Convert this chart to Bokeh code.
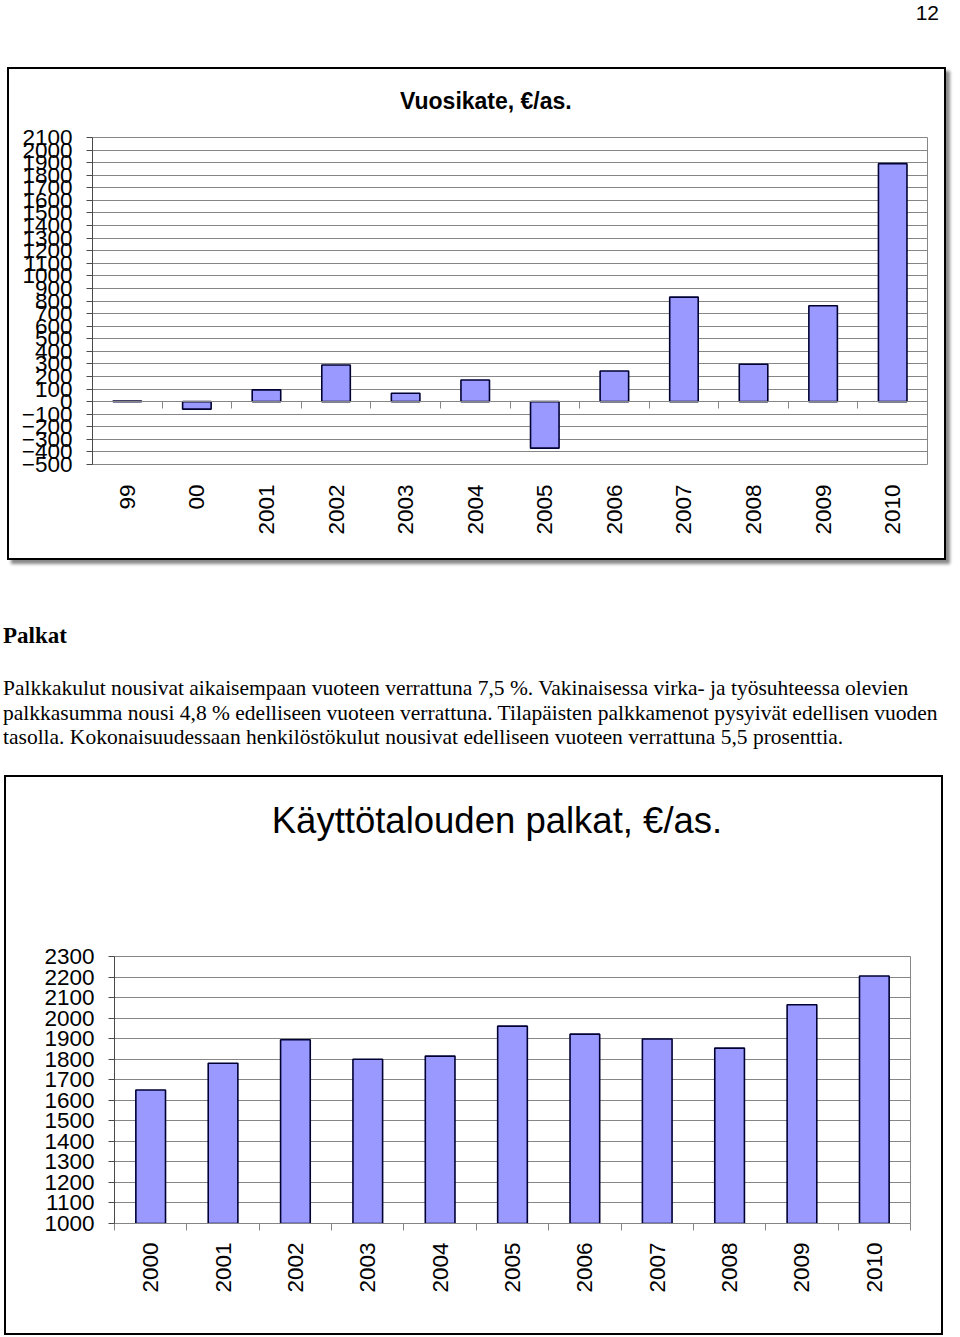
import math
from bokeh.plotting import figure
from bokeh.models import Range1d, LinearAxis, FixedTicker, Grid, Div, ColumnDataSource, Column
from bokeh.embed import file_html
from bokeh.resources import INLINE

# ---------------- data ----------------
top_title = "Vuosikate, €/as."
top_categories = ["99", "00", "2001", "2002", "2003", "2004", "2005", "2006", "2007", "2008", "2009", "2010"]
top_values = [5, -60, 93, 291, 67, 172, -370, 244, 831, 297, 762, 1892]
top_y_ticks = list(range(-500, 2101, 100))

bottom_title = "Käyttötalouden palkat, €/as."
bottom_categories = ["2000", "2001", "2002", "2003", "2004", "2005", "2006", "2007", "2008", "2009", "2010"]
bottom_values = [1650, 1780, 1895, 1800, 1815, 1961, 1922, 1898, 1854, 2065, 2205]
bottom_y_ticks = list(range(1000, 2301, 100))

page_number = "12"
heading = "Palkat"
paragraph_lines = [
    "Palkkakulut nousivat aikaisempaan vuoteen verrattuna 7,5 %. Vakinaisessa virka- ja työsuhteessa olevien",
    "palkkasumma nousi 4,8 % edelliseen vuoteen verrattuna. Tilapäisten palkkamenot pysyivät edellisen vuoden",
    "tasolla. Kokonaisuudessaan henkilöstökulut nousivat edelliseen vuoteen verrattuna 5,5 prosenttia.",
]

# ---------------- styles ----------------
FONT = "Liberation Sans"
BAR = "#9999FF"
EDGE = "#000033"
GRID = "#868686"
AXIS = "#4a4a4a"


def bar_chart(categories, values, y_ticks, width, height, borders, base):
    n = len(categories)
    centers = [i + 0.5 for i in range(n)]
    bounds = list(range(n + 1))
    p = figure(width=width, height=height,
               x_range=Range1d(0, n), y_range=Range1d(y_ticks[0], y_ticks[-1]),
               x_axis_type=None, y_axis_type=None,
               toolbar_location=None, output_backend="svg",
               min_border_left=borders[0], min_border_right=borders[1],
               min_border_top=borders[2], min_border_bottom=borders[3],
               background_fill_color="white", border_fill_color="white",
               margin=0)
    p.frame_align = False
    p.outline_line_color = GRID
    p.outline_line_width = 1

    p.add_layout(Grid(dimension=1, ticker=FixedTicker(ticks=y_ticks),
                      grid_line_color=GRID, grid_line_width=1))

    yax = LinearAxis(ticker=FixedTicker(ticks=y_ticks, minor_ticks=[]),
                     major_tick_out=6, major_tick_in=0, minor_tick_out=0, minor_tick_in=0,
                     axis_line_color=AXIS, major_tick_line_color=AXIS,
                     major_label_text_font=FONT, major_label_text_font_size="22.5px",
                     major_label_text_color="black", major_label_standoff=14)
    p.add_layout(yax, "left")

    src = ColumnDataSource(dict(x=centers, top=values))
    p.vbar(x="x", top="top", bottom=base, width=0.41, source=src,
           fill_color=BAR, line_color=EDGE, line_width=1.6)
    return p, centers, bounds


# ---------------- top chart ----------------
p1, c1, b1 = bar_chart(top_categories, top_values, top_y_ticks, 935, 439,
                       (83, 17, 18, 94), 0)
xlab1 = LinearAxis(ticker=FixedTicker(ticks=c1, minor_ticks=[]),
                   major_label_overrides={c: lab for c, lab in zip(c1, top_categories)},
                   major_tick_out=0, major_tick_in=0, minor_tick_out=0, minor_tick_in=0,
                   axis_line_color=None,
                   major_label_orientation=math.pi / 2, major_label_standoff=20,
                   major_label_text_font=FONT, major_label_text_font_size="22.5px",
                   major_label_text_color="black")
p1.add_layout(xlab1, "below")
xzero = LinearAxis(fixed_location=0, ticker=FixedTicker(ticks=[], minor_ticks=b1),
                   major_tick_out=0, major_tick_in=0, minor_tick_out=7, minor_tick_in=0,
                   minor_tick_line_color=GRID, axis_line_color=GRID)
p1.add_layout(xzero, "below")

t1 = Div(width=935, height=50, margin=0, text=(
    '<div style="position:relative;width:935px;height:50px;">'
    '<div style="position:absolute;left:391px;top:21px;font-family:\'Liberation Sans\';'
    'font-weight:bold;font-size:23px;line-height:23px;white-space:nowrap;color:#000;">'
    + top_title + '</div></div>'))

box1 = Column(children=[t1, p1], spacing=0, margin=(0, 0, 0, 7),
              styles={"border": "2px solid #000000", "box-shadow": "4px 4px 3px #8a8a8a",
                      "box-sizing": "content-box", "background-color": "white"})

# ---------------- bottom chart ----------------
p2, c2, b2 = bar_chart(bottom_categories, bottom_values, bottom_y_ticks, 935, 436,
                       (108, 31, 59, 110), bottom_y_ticks[0])
xlab2 = LinearAxis(ticker=FixedTicker(ticks=c2, minor_ticks=b2),
                   major_label_overrides={c: lab for c, lab in zip(c2, bottom_categories)},
                   major_tick_out=0, major_tick_in=0, minor_tick_out=7, minor_tick_in=0,
                   minor_tick_line_color=GRID, axis_line_color=GRID,
                   major_label_orientation=math.pi / 2, major_label_standoff=12,
                   major_label_text_font=FONT, major_label_text_font_size="22.5px",
                   major_label_text_color="black")
p2.add_layout(xlab2, "below")

t2 = Div(width=935, height=120, margin=0, text=(
    '<div style="position:relative;width:935px;height:120px;">'
    '<div style="position:absolute;left:0px;width:982px;top:26px;text-align:center;'
    'font-family:\'Liberation Sans\';font-size:36.5px;line-height:36px;white-space:nowrap;color:#000;">'
    + bottom_title + '</div></div>'))

box2 = Column(children=[t2, p2], spacing=0, margin=(0, 0, 0, 4),
              styles={"border": "2px solid #000000", "box-sizing": "content-box",
                      "background-color": "white"})

# ---------------- text blocks ----------------
num_div = Div(width=946, height=67, margin=0, text=(
    '<div style="position:relative;width:946px;height:67px;">'
    '<div style="position:absolute;right:7px;top:2px;font-family:\'Liberation Sans\';'
    'font-size:21px;line-height:21px;color:#000;">' + page_number + '</div></div>'))

text_div = Div(width=952, height=215, margin=0, text=(
    '<div style="position:relative;width:952px;height:215px;">'
    '<div style="position:absolute;left:3px;top:64px;font-family:\'Liberation Serif\';'
    'font-weight:bold;font-size:23px;line-height:24px;white-space:nowrap;color:#000;">'
    + heading + '</div>'
    '<div style="position:absolute;left:3px;top:116px;font-family:\'Liberation Serif\';'
    'font-size:21.5px;line-height:24.5px;white-space:nowrap;color:#000;">'
    + "<br>".join(paragraph_lines) + '</div></div>'))

layout = Column(children=[num_div, box1, text_div, box2], spacing=0, margin=0)

open("out.html", "w").write(file_html(layout, INLINE))
